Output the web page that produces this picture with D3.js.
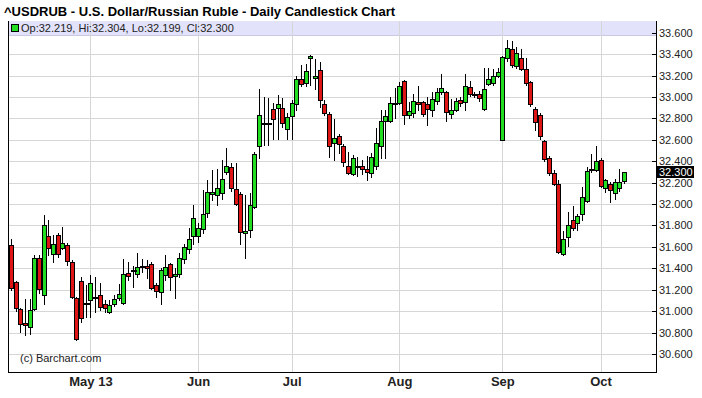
<!DOCTYPE html>
<html>
<head>
<meta charset="utf-8">
<script src="https://cdn.jsdelivr.net/npm/d3@7"></script>
<style>
  body { margin: 0; background: #fff; }
  svg { display: block; }
</style>
</head>
<body>
<script>
// USD/RUB daily candles, Apr 8 2013 - Oct 8 2013 (one value per trading day)
const opens = [
  31.62, 31.27, 31.02, 30.89, 30.85, 31.02, 31.50, 31.15, 31.70, 31.53,
  31.71, 31.59, 31.62, 31.46, 31.12, 31.28, 31.08, 31.10, 31.13, 31.15,
  31.07, 30.99, 31.07, 31.12, 31.08, 31.36, 31.38, 31.35, 31.42, 31.42,
  31.44, 31.24, 31.18, 31.34, 31.44, 31.33, 31.35, 31.49, 31.58, 31.70,
  31.70, 31.77, 31.92, 32.09, 32.08, 32.10, 32.30, 32.35, 32.14, 32.09,
  31.73, 31.76, 31.97, 32.54, 32.76, 32.76, 32.89, 32.90, 32.90, 32.70,
  32.82, 32.93, 33.17, 33.13, 33.36, 33.18, 33.25, 32.93, 32.84, 32.57,
  32.64, 32.54, 32.36, 32.28, 32.36, 32.36, 32.33, 32.29, 32.36, 32.54,
  32.78, 32.78, 32.93, 32.94, 33.15, 32.83, 32.85, 32.95, 32.95, 32.93,
  32.88, 32.96, 33.05, 33.05, 32.84, 32.88, 32.97, 32.95, 33.09, 33.03,
  33.03, 32.89, 33.12, 33.13, 33.20, 32.60, 33.36, 33.45, 33.29, 33.36,
  33.26, 33.14, 32.89, 32.83, 32.59, 32.43, 32.29, 32.19, 31.53, 31.69,
  31.85, 31.82, 31.91, 32.03, 32.33, 32.32, 32.41, 32.15, 32.19, 32.10,
  32.15, 32.219
];
const highs = [
  31.67, 31.28, 31.03, 31.11, 31.11, 31.52, 31.52, 31.90, 31.85, 31.71,
  31.73, 31.79, 31.64, 31.48, 31.13, 31.32, 31.24, 31.34, 31.32, 31.26,
  31.10, 31.10, 31.15, 31.25, 31.49, 31.46, 31.42, 31.54, 31.49, 31.48,
  31.46, 31.26, 31.40, 31.52, 31.45, 31.40, 31.54, 31.63, 31.78, 31.99,
  31.82, 32.13, 32.22, 32.32, 32.33, 32.41, 32.52, 32.38, 32.38, 32.11,
  32.08, 32.10, 32.49, 33.07, 33.00, 32.99, 32.94, 33.02, 32.99, 32.85,
  32.97, 33.20, 33.30, 33.31, 33.39, 33.35, 33.33, 32.97, 32.86, 32.79,
  32.65, 32.56, 32.49, 32.46, 32.44, 32.41, 32.45, 32.48, 32.71, 32.88,
  32.88, 33.00, 33.08, 33.14, 33.16, 32.95, 33.03, 33.10, 32.96, 33.00,
  33.05, 33.08, 33.21, 33.06, 32.98, 32.99, 33.00, 33.21, 33.15, 33.05,
  33.06, 33.27, 33.27, 33.26, 33.27, 33.38, 33.53, 33.52, 33.47, 33.45,
  33.36, 33.15, 32.91, 32.85, 32.60, 32.45, 32.32, 32.22, 31.75, 31.93,
  31.98, 31.91, 32.16, 32.35, 32.47, 32.54, 32.43, 32.23, 32.21, 32.23,
  32.33, 32.304
];
const lows = [
  31.20, 31.00, 30.81, 30.78, 30.79, 31.01, 31.17, 31.07, 31.52, 31.46,
  31.51, 31.58, 31.43, 31.12, 30.73, 30.90, 30.95, 30.95, 30.99, 31.01,
  30.99, 30.98, 31.05, 31.10, 31.07, 31.29, 31.23, 31.32, 31.37, 31.31,
  31.21, 31.13, 31.07, 31.29, 31.20, 31.12, 31.32, 31.45, 31.54, 31.63,
  31.65, 31.73, 31.88, 32.04, 31.99, 32.05, 32.28, 32.12, 31.99, 31.63,
  31.50, 31.69, 31.96, 32.43, 32.55, 32.55, 32.61, 32.61, 32.72, 32.61,
  32.61, 32.88, 33.10, 33.10, 33.11, 33.07, 32.91, 32.83, 32.44, 32.41,
  32.48, 32.36, 32.28, 32.27, 32.26, 32.28, 32.22, 32.25, 32.33, 32.43,
  32.43, 32.77, 32.80, 32.93, 32.75, 32.80, 32.81, 32.88, 32.82, 32.74,
  32.82, 32.93, 33.03, 32.78, 32.80, 32.87, 32.92, 32.88, 33.01, 33.00,
  32.96, 32.88, 33.11, 33.11, 33.19, 32.60, 33.34, 33.28, 33.27, 33.25,
  33.11, 32.92, 32.69, 32.61, 32.40, 32.27, 32.18, 31.54, 31.52, 31.61,
  31.76, 31.76, 31.85, 32.02, 32.30, 32.31, 32.16, 32.11, 32.02, 32.05,
  32.12, 32.199
];
const closes = [
  31.22, 31.03, 30.88, 30.87, 31.01, 31.50, 31.21, 31.80, 31.59, 31.63,
  31.53, 31.64, 31.47, 31.13, 30.74, 30.94, 31.08, 31.26, 31.13, 31.04,
  31.03, 31.06, 31.11, 31.16, 31.35, 31.33, 31.38, 31.41, 31.41, 31.40,
  31.22, 31.19, 31.38, 31.41, 31.32, 31.35, 31.50, 31.60, 31.67, 31.87,
  31.78, 31.91, 32.11, 32.11, 32.15, 32.23, 32.36, 32.15, 32.00, 31.74,
  31.75, 31.99, 32.47, 32.83, 32.76, 32.76, 32.79, 32.93, 32.76, 32.81,
  32.94, 33.17, 33.12, 33.24, 33.38, 33.20, 32.97, 32.85, 32.54, 32.62,
  32.56, 32.39, 32.29, 32.43, 32.36, 32.33, 32.30, 32.44, 32.57, 32.78,
  32.82, 32.94, 32.94, 33.10, 32.83, 32.87, 32.96, 32.93, 32.84, 32.89,
  32.98, 33.05, 33.08, 32.86, 32.88, 32.96, 32.94, 33.10, 33.03, 33.02,
  32.99, 33.07, 33.17, 33.20, 33.23, 33.37, 33.46, 33.30, 33.41, 33.26,
  33.13, 32.93, 32.77, 32.64, 32.42, 32.29, 32.19, 31.55, 31.67, 31.80,
  31.78, 31.89, 32.07, 32.31, 32.33, 32.40, 32.17, 32.22, 32.13, 32.21,
  32.21, 32.300
];
const monthTicks = ["2013-05-01", "2013-06-03", "2013-07-01", "2013-08-01", "2013-09-02", "2013-10-01"];
const monthLabels = ["May 13", "Jun", "Jul", "Aug", "Sep", "Oct"];
const priceTicks = [30.6, 30.8, 31.0, 31.2, 31.4, 31.6, 31.8, 32.0, 32.2, 32.4, 32.6, 32.8, 33.0, 33.2, 33.4, 33.6];

const w = 702, h = 398;
const plotLeft = 8, plotRight = 656, plotTop = 21, plotBottom = 372;
const fmt = d3.format(".3f");
const parse = d3.timeParse("%Y-%m-%d");

// trading days (weekdays) Apr 8 .. Oct 8
const dates = d3.timeDay.range(new Date(2013, 3, 8), new Date(2013, 9, 9))
  .filter(d => d.getDay() % 6 !== 0);
const data = dates.map((d, i) => ({date: d, o: opens[i], h: highs[i], l: lows[i], c: closes[i]}));
const last = data[data.length - 1];

const x = d3.scalePoint().domain(dates.map(d => +d)).range([10.9, 624.0]);
const y = d3.scaleLinear().domain([30.6, 33.6]).range([354, 32.7]);

const svg = d3.select("body").append("svg")
  .attr("width", w)
  .attr("height", h)
  .style("font-family", "'Liberation Sans', Arial, sans-serif");

svg.append("rect").attr("width", w).attr("height", h).attr("fill", "#fff");

// horizontal grid
svg.append("g").selectAll("line").data(priceTicks).join("line")
  .attr("x1", plotLeft).attr("x2", plotRight)
  .attr("y1", d => Math.round(y(d)) + 0.5).attr("y2", d => Math.round(y(d)) + 0.5)
  .attr("stroke", "#d6d6d6").attr("shape-rendering", "crispEdges");

// legend band at the top of the plot
svg.append("rect")
  .attr("x", plotLeft).attr("y", plotTop).attr("width", plotRight - plotLeft).attr("height", 14)
  .attr("fill", "#e2e2fa");
svg.append("line")
  .attr("x1", plotLeft).attr("x2", plotRight).attr("y1", plotTop + 14.5).attr("y2", plotTop + 14.5)
  .attr("stroke", "#c9c9e6").attr("shape-rendering", "crispEdges");

// vertical month grid
svg.append("g").selectAll("line").data(monthTicks).join("line")
  .attr("x1", d => Math.round(x(+parse(d))) + 0.5).attr("x2", d => Math.round(x(+parse(d))) + 0.5)
  .attr("y1", plotTop).attr("y2", plotBottom)
  .attr("stroke", "#d6d6d6").attr("shape-rendering", "crispEdges");

// frame
const frame = svg.append("g").attr("stroke", "#000").attr("shape-rendering", "crispEdges");
frame.append("line").attr("x1", plotLeft + 0.5).attr("x2", plotLeft + 0.5).attr("y1", plotTop).attr("y2", plotBottom + 1);
frame.append("line").attr("x1", plotLeft).attr("x2", plotRight + 1).attr("y1", plotBottom + 0.5).attr("y2", plotBottom + 0.5);
frame.append("line").attr("x1", plotRight + 0.5).attr("x2", plotRight + 0.5).attr("y1", plotTop).attr("y2", plotBottom + 1);

// price axis ticks and labels
svg.append("g").selectAll("line").data(priceTicks).join("line")
  .attr("x1", plotRight - 4).attr("x2", plotRight + 1)
  .attr("y1", d => Math.round(y(d)) + 0.5).attr("y2", d => Math.round(y(d)) + 0.5)
  .attr("stroke", "#000").attr("shape-rendering", "crispEdges");
svg.append("g").selectAll("text").data(priceTicks).join("text")
  .attr("x", plotRight + 3).attr("y", d => y(d)).attr("dy", "0.36em")
  .attr("font-size", 11).attr("fill", "#222")
  .text(d => fmt(d));

// month labels
svg.append("g").selectAll("text").data(monthTicks).join("text")
  .attr("x", d => x(+parse(d)) + 0.5).attr("y", 386)
  .attr("text-anchor", "middle")
  .attr("font-family", "'Liberation Sans Narrow', 'Liberation Sans', Arial, sans-serif")
  .attr("font-weight", "bold").attr("font-size", 13).attr("fill", "#222")
  .text((d, i) => monthLabels[i]);

// candles
const candles = svg.append("g").attr("shape-rendering", "crispEdges");
const cx = d => Math.round(x(+d.date)) + 0.5;

candles.selectAll("line.wick").data(data).join("line")
  .attr("class", "wick")
  .attr("x1", cx).attr("x2", cx)
  .attr("y1", d => Math.round(y(d.h))).attr("y2", d => Math.round(y(d.l)) + 1)
  .attr("stroke", "#000");

candles.selectAll("rect.body").data(data.filter(d => d.o !== d.c)).join("rect")
  .attr("class", "body")
  .attr("x", d => cx(d) - 2)
  .attr("y", d => Math.round(y(Math.max(d.o, d.c))) + 0.5)
  .attr("width", 4)
  .attr("height", d => Math.max(1, Math.round(y(Math.min(d.o, d.c))) - Math.round(y(Math.max(d.o, d.c)))))
  .attr("fill", d => d.c > d.o ? "#22dd22" : "#dd1515")
  .attr("stroke", "#000");

candles.selectAll("line.doji").data(data.filter(d => d.o === d.c)).join("line")
  .attr("class", "doji")
  .attr("x1", d => cx(d) - 2.5).attr("x2", d => cx(d) + 3.5)
  .attr("y1", d => Math.round(y(d.c)) + 0.5).attr("y2", d => Math.round(y(d.c)) + 0.5)
  .attr("stroke", "#000").attr("stroke-width", 2);

// last price marker
svg.append("rect")
  .attr("x", plotRight + 1).attr("y", Math.round(y(last.c)) - 6).attr("width", 37).attr("height", 12)
  .attr("fill", "#000");
svg.append("text")
  .attr("x", plotRight + 3).attr("y", y(last.c)).attr("dy", "0.36em")
  .attr("font-size", 11).attr("fill", "#fff")
  .text(fmt(last.c));

// legend
svg.append("rect")
  .attr("x", 11.5).attr("y", 24.5).attr("width", 7).attr("height", 7)
  .attr("fill", last.c >= last.o ? "#22dd22" : "#dd1515").attr("stroke", "#000")
  .attr("shape-rendering", "crispEdges");
svg.append("text")
  .attr("x", 21).attr("y", 32)
  .attr("font-size", 11).attr("fill", "#222")
  .text(`Op:${fmt(last.o)}, Hi:${fmt(last.h)}, Lo:${fmt(last.l)}, Cl:${fmt(last.c)}`);

// title
svg.append("text")
  .attr("x", 4).attr("y", 16)
  .attr("font-size", 13).attr("font-weight", "bold").attr("fill", "#000")
  .text("^USDRUB - U.S. Dollar/Russian Ruble - Daily Candlestick Chart");

svg.append("text")
  .attr("x", 20).attr("y", 362)
  .attr("font-size", 11).attr("fill", "#222")
  .text("(c) Barchart.com");
</script>
</body>
</html>
